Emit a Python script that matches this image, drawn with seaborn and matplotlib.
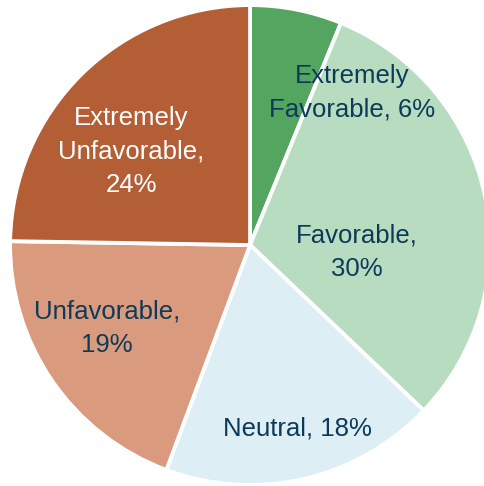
import matplotlib
matplotlib.use("Agg")
import matplotlib.pyplot as plt
import seaborn as sns

sns.set_style("white")
plt.rcParams['font.family'] = ['Liberation Sans', 'DejaVu Sans']

# Data
categories = ["Extremely\nFavorable", "Favorable", "Neutral", "Unfavorable", "Extremely\nUnfavorable"]
values = [6, 30, 18, 19, 24]
labels = ["Extremely\nFavorable, 6%", "Favorable,\n30%", "Neutral, 18%",
          "Unfavorable,\n19%", "Extremely\nUnfavorable,\n24%"]

colors = ["#53a560", "#b8dcc0", "#ddeef5", "#d99a7d", "#b35e35"]
text_colors = ["#0c3a58", "#0c3a58", "#0c3a58", "#0c3a58", "white"]
label_pos = [(0.425, 0.633), (0.446, -0.029), (0.196, -0.763),
             (-0.596, -0.346), (-0.496, 0.388)]

fig = plt.figure(figsize=(4.85, 4.86), dpi=100)
ax = fig.add_axes([0, 0, 1, 1])

wedges, texts = ax.pie(
    values,
    labels=labels,
    colors=colors,
    startangle=90,
    counterclock=False,
    radius=1,
    wedgeprops=dict(edgecolor="white", linewidth=2.8),
    textprops=dict(fontsize=18.5, ha="center", va="center", linespacing=1.5),
)

for t, pos, c in zip(texts, label_pos, text_colors):
    t.set_position(pos)
    t.set_color(c)
    t.set_ha("center")
    t.set_va("center")

ax.set_xlim(-1.042, 0.979)
ax.set_ylim(-1.004, 1.021)
ax.set_aspect("equal")
ax.axis("off")

fig.savefig("out.png", dpi=100)
